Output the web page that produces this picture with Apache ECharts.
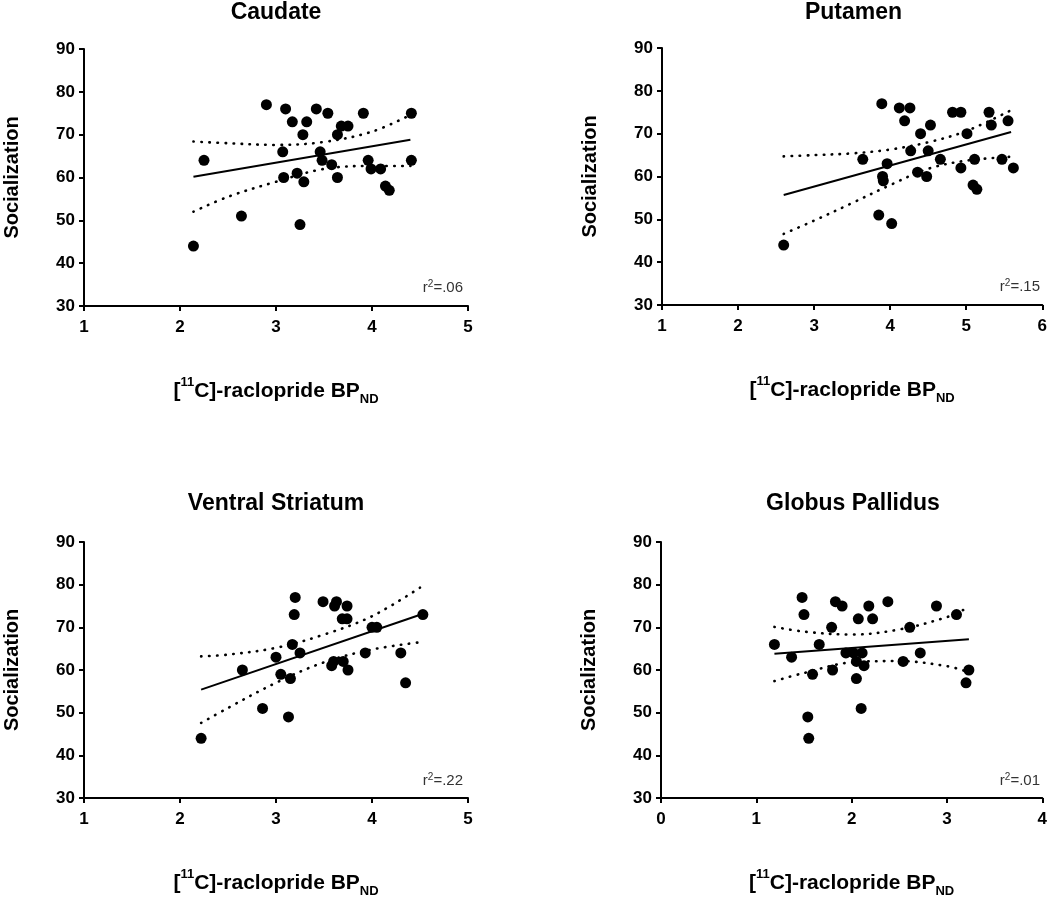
<!DOCTYPE html>
<html>
<head>
<meta charset="utf-8">
<script src="https://cdn.jsdelivr.net/npm/echarts@6/dist/echarts.min.js"></script>
<style>
html,body{margin:0;padding:0;background:#fff;}
#chart{width:1050px;height:899px;}
</style>
</head>
<body>
<div id="chart"></div>
<script>
// ---------- data ----------
const panelTitles = ['Caudate', 'Putamen', 'Ventral Striatum', 'Globus Pallidus'];
const r2Labels = ['.06', '.15', '.22', '.01'];
const xMins = [1, 1, 1, 0];
const xMaxs = [5, 6, 5, 4];
const yTicksMin = 30, yTicksMax = 90, yTickStep = 10;

const caudateX = [2.90,3.10,3.42,3.54,3.91,4.41,3.17,3.32,3.68,3.75,3.28,3.64,3.07,3.46,2.25,3.48,3.96,4.41,3.58,3.99,4.09,3.22,3.08,3.64,3.29,4.14,4.18,2.64,3.25,2.14];
const caudateY = [77,76,76,75,75,75,73,73,72,72,70,70,66,66,64,64,64,64,63,62,62,61,60,60,59,58,57,51,49,44];
const caudateFitX = [2.14, 4.40];
const caudateFitY = [60.2, 68.8];
const caudateBandX = [2.14, 2.5, 3.0, 3.5, 4.0, 4.4];
const caudateUpper = [68.4, 68.0, 67.6, 68.3, 70.7, 74.6];
const caudateLower = [52.0, 55.5, 59.0, 62.0, 62.7, 62.7];

const putamenX = [3.89,4.12,4.26,4.82,4.93,5.30,4.19,5.55,4.53,5.33,4.40,5.01,4.27,4.50,3.64,4.66,5.11,5.47,3.96,4.93,5.62,4.36,3.90,4.48,3.91,5.09,5.14,3.85,4.02,2.60];
const putamenY = [77,76,76,75,75,75,73,73,72,72,70,70,66,66,64,64,64,64,63,62,62,61,60,60,59,58,57,51,49,44];
const putamenFitX = [2.60, 5.59];
const putamenFitY = [55.7, 70.4];
const putamenBandX = [2.6, 3.0, 3.5, 4.0, 4.5, 5.0, 5.58];
const putamenUpper = [64.7, 65.0, 65.4, 66.3, 68.0, 70.6, 75.4];
const putamenLower = [46.6, 49.7, 53.8, 58.0, 61.8, 63.7, 64.6];

const ventralX = [3.20,3.49,3.63,3.61,3.74,3.19,4.53,3.69,3.74,4.00,4.05,3.17,3.25,3.00,3.93,4.30,2.65,3.75,3.60,3.58,3.70,3.05,3.15,4.35,2.86,3.13,2.22];
const ventralY = [77,76,76,75,75,73,73,72,72,70,70,66,64,63,64,64,60,60,62,61,62,59,58,57,51,49,44];
const ventralFitX = [2.22, 4.51];
const ventralFitY = [55.4, 73.0];
const ventralBandX = [2.22, 2.5, 3.0, 3.5, 4.0, 4.5];
const ventralUpper = [63.2, 63.6, 65.2, 68.3, 72.6, 79.3];
const ventralLower = [47.6, 51.1, 57.0, 61.8, 64.8, 66.5];

const pallidusX = [1.48,1.83,1.90,2.38,2.18,2.89,1.50,3.10,2.07,2.22,1.79,2.61,1.19,1.66,1.37,1.94,2.02,2.11,2.72,2.05,2.54,2.13,1.59,1.80,3.23,2.05,3.20,2.10,1.54,1.55];
const pallidusY = [77,76,75,76,75,75,73,73,72,72,70,70,66,66,63,64,64,64,64,62,62,61,59,60,60,58,57,51,49,44];
const pallidusFitX = [1.19, 3.23];
const pallidusFitY = [63.8, 67.2];
const pallidusBandX = [1.19, 1.5, 2.0, 2.5, 3.0, 3.2];
const pallidusUpper = [70.1, 69.0, 68.3, 69.5, 72.4, 74.4];
const pallidusLower = [57.4, 59.3, 61.8, 62.1, 60.9, 59.7];

// ---------- layout ----------
const FONT = 'Liberation Sans, Arial, Helvetica, sans-serif';
const grids = [
  {left: 84, top: 49, width: 384, height: 257},
  {left: 662, top: 48, width: 383, height: 257},
  {left: 84, top: 542, width: 384, height: 257},
  {left: 661, top: 542, width: 384, height: 257}
];

const panels = [
  [caudateX, caudateY, caudateFitX, caudateFitY, caudateBandX, caudateUpper, caudateLower],
  [putamenX, putamenY, putamenFitX, putamenFitY, putamenBandX, putamenUpper, putamenLower],
  [ventralX, ventralY, ventralFitX, ventralFitY, ventralBandX, ventralUpper, ventralLower],
  [pallidusX, pallidusY, pallidusFitX, pallidusFitY, pallidusBandX, pallidusUpper, pallidusLower]
];

function zip(a, b) { return a.map((v, i) => [v, b[i]]); }

const axisLine = {show: true, lineStyle: {color: '#000', width: 2}};
const axisTick = {show: true, inside: false, length: 5, lineStyle: {color: '#000', width: 2}};
const axisLabel = {color: '#000', fontFamily: FONT, fontWeight: 'bold', fontSize: 17};

const xAxes = [], yAxes = [], series = [], graphics = [];
grids.forEach((g, i) => {
  xAxes.push({
    type: 'value', gridIndex: i, min: xMins[i], max: xMaxs[i], interval: 1,
    axisLine, axisTick, splitLine: {show: false},
    axisLabel: Object.assign({margin: 13}, axisLabel),
    name: '[{sup|11}C]-raclopride BP{sub|ND}',
    nameLocation: 'middle', nameGap: 70,
    nameTextStyle: {
      color: '#000', fontFamily: FONT, fontWeight: 'bold', fontSize: 21, lineHeight: 30,
      rich: {
        sup: {fontFamily: FONT, fontWeight: 'bold', fontSize: 13, lineHeight: 13, verticalAlign: 'top', color: '#000'},
        sub: {fontFamily: FONT, fontWeight: 'bold', fontSize: 13, lineHeight: 13, verticalAlign: 'bottom', color: '#000'}
      }
    }
  });
  yAxes.push({
    type: 'value', gridIndex: i, min: yTicksMin, max: yTicksMax, interval: yTickStep,
    axisLine, axisTick, splitLine: {show: false},
    axisLabel: Object.assign({margin: 9}, axisLabel),
    name: 'Socialization', nameLocation: 'middle', nameGap: 62, nameRotate: 90,
    nameTextStyle: {color: '#000', fontFamily: FONT, fontWeight: 'bold', fontSize: 20}
  });
  const p = panels[i];
  series.push({
    type: 'scatter', xAxisIndex: i, yAxisIndex: i, data: zip(p[0], p[1]),
    symbol: 'circle', symbolSize: 11, itemStyle: {color: '#000', opacity: 1}, z: 5
  });
  series.push({
    type: 'line', xAxisIndex: i, yAxisIndex: i, data: zip(p[2], p[3]),
    showSymbol: false, symbol: 'none', lineStyle: {color: '#000', width: 2}, z: 4
  });
  [p[5], p[6]].forEach(band => {
    series.push({
      type: 'line', xAxisIndex: i, yAxisIndex: i, data: zip(p[4], band),
      smooth: 0.35, showSymbol: false, symbol: 'none',
      lineStyle: {color: '#000', width: 2.6, type: [0.5, 7.5], cap: 'round'}, z: 3
    });
  });
  // title
  graphics.push({
    type: 'text', x: g.left + g.width / 2, y: (i < 2 ? 13 : 504),
    style: {text: panelTitles[i], fill: '#000', font: 'bold 23px ' + FONT,
            textAlign: 'center', textVerticalAlign: 'middle'}
  });
  // r2 label
  graphics.push({
    type: 'text', x: g.left + g.width - 5, y: g.top + g.height - 18,
    style: {
      text: 'r{s|2}=' + r2Labels[i], fill: '#333', font: '15px ' + FONT,
      fontSize: 15, fontFamily: FONT,
      textAlign: 'right', textVerticalAlign: 'middle', lineHeight: 18,
      rich: {s: {fontSize: 10, fontFamily: FONT, lineHeight: 10, verticalAlign: 'top', fill: '#333'}}
    }
  });
});

const chart = echarts.init(document.getElementById('chart'), null, {renderer: 'canvas'});
chart.setOption({
  animation: false,
  backgroundColor: '#fff',
  grid: grids,
  xAxis: xAxes,
  yAxis: yAxes,
  series: series,
  graphic: graphics
});
</script>
</body>
</html>
